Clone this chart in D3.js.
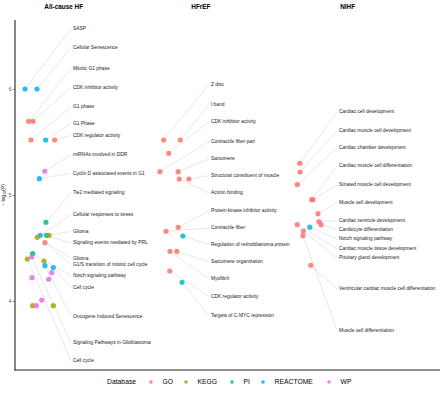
<!DOCTYPE html>
<html><head><meta charset="utf-8">
<script src="https://cdn.jsdelivr.net/npm/d3@7"></script>
<style>body{margin:0;background:#fff}svg{display:block;font-family:"Liberation Sans",Arial,sans-serif}</style>
</head><body><svg id="c" width="440" height="401"></svg>
<script>
// ---------- data ----------
const panels = ["All-cause HF", "HFrEF", "NIHF"];
const databases = ["GO", "KEGG", "PI", "REACTOME", "WP"];
const yTicks = [4, 5, 6];

// All-cause HF
const allTerms = ["SASP","Cellular Senescence","Mitotic G1 phase","CDK inhibitor activity","G1 phase","G1 Phase","CDK regulator activity","miRNAs involved in DDR","Cyclin D associated events in G1","Tie2 mediated signaling","Cellular responses to stress","Signaling events mediated by PRL","Glioma","Glioma","G1/S transition of mitotic cell cycle","Notch signaling pathway","Cell cycle","Signaling Pathways in Glioblastoma",null,"Oncogene Induced Senescence","Cell cycle",null,null,null,null,null,null,null];
const allDb = ["REACTOME","REACTOME","GO","GO","GO","REACTOME","GO","WP","REACTOME","PI","REACTOME","PI","KEGG","KEGG","GO","PI","KEGG","WP","KEGG","REACTOME","REACTOME","WP","WP","WP","WP","KEGG","WP","KEGG"];
const allLogP = [6.00,6.00,5.695,5.695,5.519,5.519,5.519,5.224,5.154,4.742,4.620,4.620,4.620,4.601,4.550,4.446,4.396,4.415,4.377,4.333,4.315,4.267,4.220,4.205,4.009,3.956,3.956,3.956];
const allJitter = [0.076,0.167,0.104,0.137,0.121,0.233,0.301,0.226,0.185,0.235,0.192,0.239,0.258,0.169,0.228,0.134,0.093,0.127,0.220,0.228,0.291,0.279,0.129,0.256,0.203,0.134,0.162,0.291];
const allLabelLogP = [6.566,6.390,6.195,6.012,5.830,5.676,5.563,5.377,5.205,5.022,4.811,4.547,4.658,4.403,4.346,4.242,3.434,3.607,null,3.856,4.129,null,null,null,null,null,null,null];

// HFrEF
const hfrefTerms = ["Z disc","I band","CDK inhibitor activity","Contractile fiber part","Sarcomere","Structural constituent of muscle","Actinin binding","Protein kinase inhibitor activity","Contractile fiber","Regulation of retinoblastoma protein","Sarcomere organization","Myofibril","CDK regulator activity","Targets of C-MYC repression"];
const hfrefDb = ["GO","GO","GO","GO","GO","GO","GO","GO","GO","PI","GO","GO","GO","PI"];
const hfrefLogP = [5.519,5.519,5.393,5.220,5.220,5.151,5.151,4.695,4.658,4.613,4.469,4.469,4.283,4.176];
const hfrefJitter = [0.116,0.229,0.150,0.091,0.215,0.288,0.222,0.215,0.132,0.247,0.205,0.159,0.157,0.241];
const hfrefLabelLogP = [6.044,5.856,5.692,5.507,5.340,5.182,5.019,4.849,4.689,4.531,4.368,4.208,4.044,3.861];

// NIHF
const nihfTerms = ["Cardiac cell development","Cardiac muscle cell development","Cardiac chamber development","Cardiac muscle cell differentiation","Striated muscle cell development","Muscle cell development","Cardiac ventricle development","Cardiocyte differentiation","Notch signaling pathway","Cardiac muscle tissue development","Pituitary gland development","Ventricular cardiac muscle cell differentiation","Muscle cell differentiation"];
const nihfDb = ["GO","GO","GO","GO","GO","GO","GO","GO","PI","GO","GO","GO","GO"];
const nihfLogP = [5.299,5.217,5.098,4.956,4.956,4.824,4.748,4.720,4.696,4.720,4.660,4.337,4.616];
const nihfJitter = [0.044,0.046,0.027,0.125,0.134,0.168,0.175,0.189,0.112,0.027,0.068,0.119,0.066];
const nihfLabelLogP = [5.783,5.607,5.446,5.274,5.094,4.931,4.758,4.673,4.585,4.493,4.406,4.113,3.720];

// label nudge (x, in panel units) per panel
const labelNudge = [0.44, 0.438, 0.312];

// ---------- build ----------
const series = [
  {terms: allTerms, db: allDb, logP: allLogP, jit: allJitter, lab: allLabelLogP},
  {terms: hfrefTerms, db: hfrefDb, logP: hfrefLogP, jit: hfrefJitter, lab: hfrefLabelLogP},
  {terms: nihfTerms, db: nihfDb, logP: nihfLogP, jit: nihfJitter, lab: nihfLabelLogP}
];

// ggplot hue palettes by number of levels
const huePal = {
  5: ["#F8766D","#A3A500","#00BF7D","#00B0F6","#E76BF3"],
  2: ["#F8766D","#00BFC4"]
};

const svg = d3.select("#c");
const plotTop = 20, plotBottom = 370;
const y = d3.scaleLinear().domain([3.349, 6.651]).range([plotBottom, plotTop]);

// patchwork-style layout: three plots of equal width; first includes y axis
const plotX = d3.scaleBand().domain(panels).range([0, 440]);
const axisW = 15;
const panelRange = p => {
  const i = panels.indexOf(p);
  const x0 = plotX(p) + (i === 0 ? axisW : 0);
  return [x0, plotX(p) + plotX.bandwidth()];
};

const fontLabel = 4.9;

series.forEach((s, pi) => {
  const pName = panels[pi];
  const x = d3.scaleLinear().domain([0, 1]).range(panelRange(pName));
  const levels = databases.filter(d => s.db.includes(d));
  const color = d3.scaleOrdinal().domain(levels).range(huePal[levels.length] || huePal[5]);
  const rows = s.terms.map((t, i) => ({term: t, db: s.db[i], v: s.logP[i], j: s.jit[i], lv: s.lab[i]}));
  const g = svg.append("g");

  // title
  g.append("text").attr("x", x(0.37)).attr("y", 7).attr("text-anchor", "middle")
    .attr("dominant-baseline", "middle").attr("font-weight", "bold").attr("font-size", 6.4)
    .attr("fill", "#000").text(pName);

  const labeled = rows.filter(r => r.term);
  const lx = x(labelNudge[pi]);
  // segments
  g.selectAll("line.seg").data(labeled).join("line").attr("class", "seg")
    .attr("x1", d => x(d.j)).attr("y1", d => y(d.v))
    .attr("x2", lx - 2).attr("y2", d => y(d.lv))
    .attr("stroke", "#cfcfcf").attr("stroke-width", 0.5);
  // points
  g.selectAll("circle").data(rows).join("circle")
    .attr("cx", d => x(d.j)).attr("cy", d => y(d.v)).attr("r", 2.6)
    .attr("fill", d => color(d.db)).attr("fill-opacity", 0.85);
  // labels
  g.selectAll("text.lab").data(labeled).join("text").attr("class", "lab")
    .attr("x", lx).attr("y", d => y(d.lv)).attr("dominant-baseline", "middle")
    .attr("font-size", fontLabel).attr("fill", "#1a1a1a").text(d => d.term);
});

// axes
const yAxis = d3.axisLeft(y).tickValues(yTicks).tickSize(2.5).tickFormat(d3.format("d"));
const ya = svg.append("g").attr("transform", `translate(${axisW},0)`).call(yAxis);
ya.select(".domain").remove();
ya.selectAll(".tick line").attr("stroke", "#333").attr("stroke-width", 0.5);
ya.selectAll(".tick text").attr("font-size", 4.8).attr("fill", "#4d4d4d").attr("x", -3.5)
  .attr("font-family", "Liberation Sans, Arial, sans-serif");
svg.append("line").attr("x1", axisW).attr("x2", axisW).attr("y1", plotTop).attr("y2", plotBottom + 0.6)
  .attr("stroke", "#222").attr("stroke-width", 1.1);
svg.append("line").attr("x1", axisW - 0.5).attr("x2", 440).attr("y1", plotBottom).attr("y2", plotBottom)
  .attr("stroke", "#222").attr("stroke-width", 1.1);

// y title
const yt = svg.append("text").attr("transform", `translate(5,${(plotTop + plotBottom) / 2}) rotate(-90)`)
  .attr("text-anchor", "middle").attr("font-size", 5).attr("fill", "#000");
yt.append("tspan").text("\u2212 log");
yt.append("tspan").attr("font-size", 3.6).attr("dy", 1.2).text("10");
yt.append("tspan").attr("dy", -1.2).text("(P)");

// legend
const legColor = d3.scaleOrdinal().domain(databases).range(huePal[5]);
const leg = svg.append("g").attr("transform", "translate(107,382)");
leg.append("text").attr("x", 0).attr("y", 0).attr("dominant-baseline", "middle")
  .attr("font-size", 6.8).attr("fill", "#000").text("Database");
const legX = [44, 79, 125, 156, 222];
databases.forEach((d, i) => {
  leg.append("circle").attr("cx", legX[i]).attr("cy", 0).attr("r", 1.8).attr("fill", legColor(d)).attr("fill-opacity", 0.85);
  leg.append("text").attr("x", legX[i] + 11.5).attr("y", 0).attr("dominant-baseline", "middle")
    .attr("font-size", 6.8).attr("fill", "#000").text(d);
});
</script></body></html>
